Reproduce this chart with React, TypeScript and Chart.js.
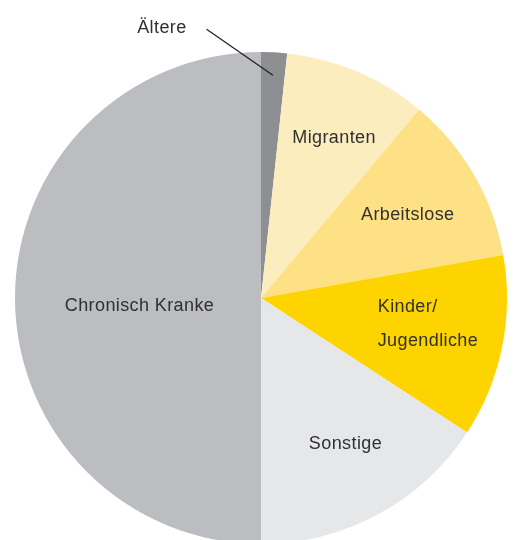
import React, { useEffect, useRef } from "react";
import { Chart, registerables } from "chart.js";

Chart.register(...registerables);

const categories = ["Ältere", "Migranten", "Arbeitslose", "Kinder/Jugendliche", "Sonstige", "Chronisch Kranke"];
const labelLines = [["Ältere"], ["Migranten"], ["Arbeitslose"], ["Kinder/", "Jugendliche"], ["Sonstige"], ["Chronisch Kranke"]];
const shares = [1.7, 9.4, 11.1, 12.0, 15.8, 50.0];
const colors = ["#8e8f93", "#fcedbe", "#fde184", "#fed400", "#e6e7e9", "#bcbdc1"];

// label placement: [angle tweak in degrees, radius fraction]
const labelPlacement: [number, number][] = [
  [0, 0.907],
  [1.5, 0.715],
  [0.6, 0.685],
  [-2.6, 0.687],
  [-1.6, 0.686],
  [-3.8, 0.495],
];

const FONT = "18px 'Liberation Sans', Arial, sans-serif";
const TEXT_COLOR = "#303030";

const labelPlugin = {
  id: "sliceLabels",
  afterDatasetsDraw(chart: any) {
    const ctx = chart.ctx as CanvasRenderingContext2D;
    const meta = chart.getDatasetMeta(0);
    ctx.save();
    ctx.font = FONT;
    (ctx as any).letterSpacing = "0.4px";
    ctx.fillStyle = TEXT_COLOR;
    ctx.textBaseline = "middle";
    meta.data.forEach((arc: any, i: number) => {
      const { x, y, startAngle, endAngle, outerRadius } = arc.getProps(
        ["x", "y", "startAngle", "endAngle", "outerRadius"],
        true
      );
      const [tweak, frac] = labelPlacement[i];
      const mid = (startAngle + endAngle) / 2 + (tweak * Math.PI) / 180;
      const px = x + Math.cos(mid) * outerRadius * frac;
      const py = y + Math.sin(mid) * outerRadius * frac;
      const lines = labelLines[i];
      if (i === 0) {
        // outside label with leader line
        const a2 = mid - (14.5 * Math.PI) / 180;
        const ex = x + Math.cos(a2) * outerRadius * 1.115;
        const ey = y + Math.sin(a2) * outerRadius * 1.115;
        ctx.strokeStyle = "#222";
        ctx.lineWidth = 1.3;
        ctx.beginPath();
        ctx.moveTo(px, py);
        ctx.lineTo(ex, ey);
        ctx.stroke();
        ctx.textAlign = "right";
        ctx.fillText(lines[0], ex - 20, ey - 1);
        return;
      }
      if (lines.length > 1) {
        const widths = lines.map((l) => ctx.measureText(l).width);
        const maxW = Math.max(...widths);
        const left = px - maxW / 2;
        const gap = 34;
        ctx.textAlign = "left";
        lines.forEach((l, k) => {
          ctx.fillText(l, left, py + (k - (lines.length - 1) / 2) * gap);
        });
      } else {
        ctx.textAlign = "center";
        ctx.fillText(lines[0], px, py);
      }
    });
    ctx.restore();
  },
};

export default function App() {
  const ref = useRef<HTMLCanvasElement | null>(null);
  useEffect(() => {
    if (!ref.current) return;
    const chart = new Chart(ref.current, {
      type: "pie",
      data: {
        labels: categories,
        datasets: [
          {
            data: shares,
            backgroundColor: colors,
            borderWidth: 0,
          },
        ],
      },
      options: {
        animation: false,
        responsive: false,
        layout: { padding: { top: 52, bottom: 16, left: 15, right: 15 } },
        plugins: {
          legend: { display: false },
          tooltip: { enabled: false },
        },
      },
      plugins: [labelPlugin],
    });
    return () => chart.destroy();
  }, []);
  return (
    <div
      style={{
        position: "fixed",
        top: 0,
        left: 0,
        width: 522,
        height: 540,
        overflow: "hidden",
        background: "#fff",
      }}
    >
      <canvas ref={ref} width={522} height={560} style={{ display: "block", width: 522, height: 560 }} />
    </div>
  );
}
